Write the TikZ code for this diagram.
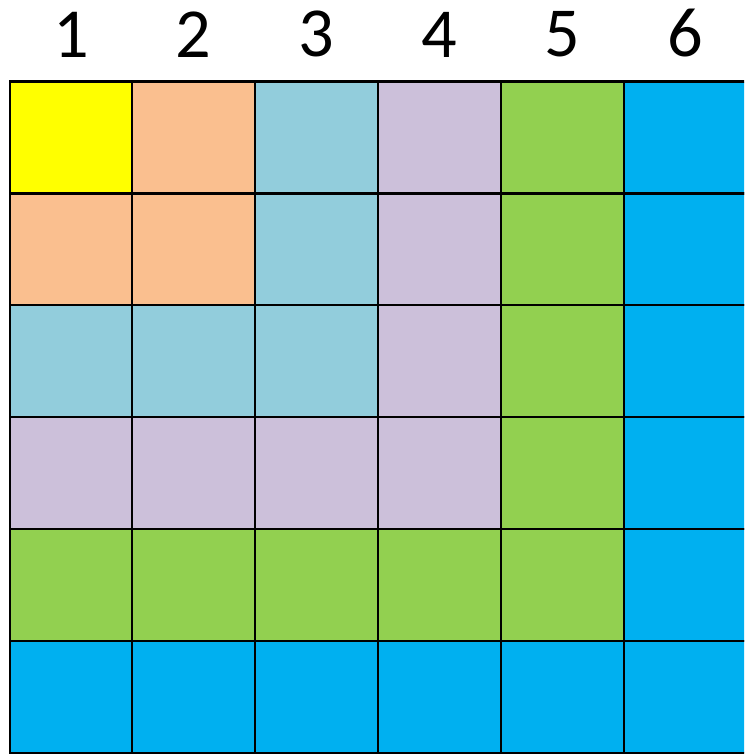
\documentclass[tikz,border=0pt]{standalone}
\usepackage{fontspec}
\setmainfont{Carlito}
\usetikzlibrary{positioning}
\definecolor{lvl1}{RGB}{255,255,0}
\definecolor{lvl2}{RGB}{250,191,143}
\definecolor{lvl3}{RGB}{146,205,220}
\definecolor{lvl4}{RGB}{204,192,218}
\definecolor{lvl5}{RGB}{146,208,80}
\definecolor{lvl6}{RGB}{0,176,240}
\tikzset{
  cell/.style  = {draw=black, line width=1.2pt, minimum width=2.456cm,
                  minimum height=2.238cm, inner sep=0pt, anchor=north west},
  collab/.style = {font=\fontsize{40}{48}\selectfont, inner sep=0pt},
}
\begin{document}
\begin{tikzpicture}
  \useasboundingbox (0,0) rectangle (14.88,-15.08);
  \clip (0,0) rectangle (14.88,-15.08);

  % cells, coloured by max(row, column)
  \foreach \r in {1,...,6} {
    \foreach \c in {1,...,6} {
      \pgfmathtruncatemacro{\lvl}{max(\r,\c)}
      \node[cell, fill=lvl\lvl] (c\r\c) at ({0.17+2.456*(\c-1)}, {-1.61-2.238*(\r-1)}) {};
    }
  }

  % column numbers
  \foreach \c in {1,...,6} {
    \node[collab, above=0.46cm of c1\c.north] (lab\c) {\c};
  }
\end{tikzpicture}
\end{document}
